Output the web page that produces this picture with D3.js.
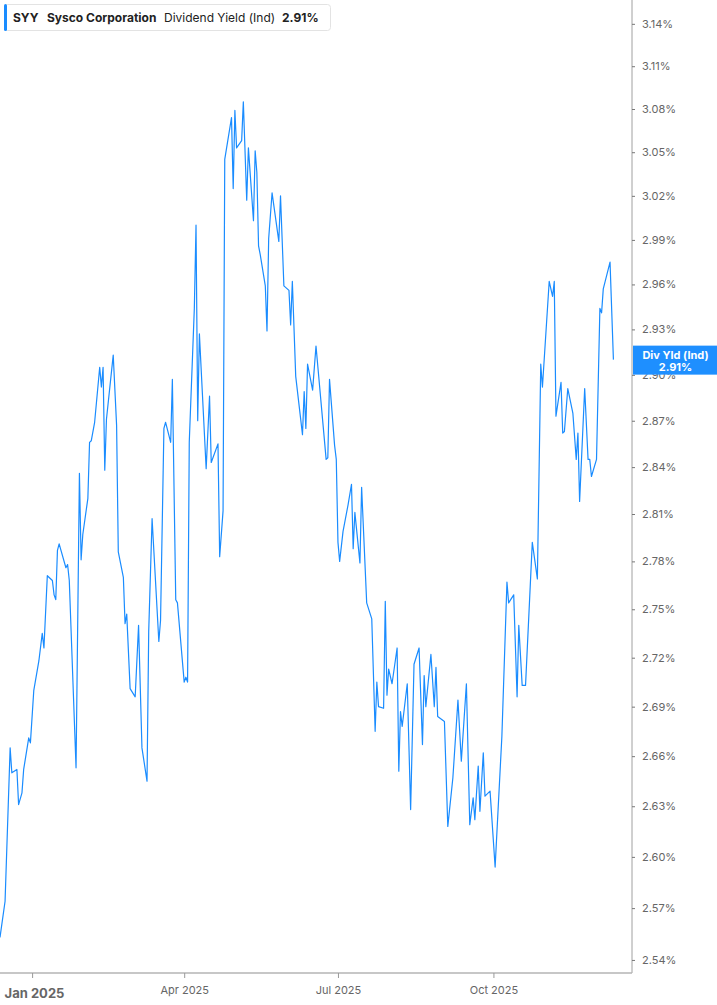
<!DOCTYPE html>
<html><head><meta charset="utf-8">
<script src="https://cdn.jsdelivr.net/npm/d3@7"></script>
<style>
html,body{margin:0;padding:0;background:#fff;}
svg{display:block;font-family:Inter,"Noto Sans",sans-serif;}
</style></head><body>
<svg id="c" width="717" height="1005"></svg>
<script>
const dates = ["2024-12-13","2024-12-16","2024-12-19","2024-12-20","2024-12-23","2024-12-24","2024-12-26","2024-12-27","2024-12-30","2024-12-31",
"2025-01-02","2025-01-05","2025-01-07","2025-01-08","2025-01-10","2025-01-13","2025-01-14","2025-01-15","2025-01-16","2025-01-17",
"2025-01-21","2025-01-22","2025-01-23","2025-01-27","2025-01-29","2025-01-30","2025-01-31","2025-02-03","2025-02-04","2025-02-05",
"2025-02-07","2025-02-10","2025-02-11","2025-02-12","2025-02-13","2025-02-14","2025-02-18","2025-02-20","2025-02-21","2025-02-24",
"2025-02-25","2025-02-26","2025-02-28","2025-03-03","2025-03-05","2025-03-07","2025-03-10","2025-03-11","2025-03-13","2025-03-17",
"2025-03-18","2025-03-20","2025-03-21","2025-03-24","2025-03-25","2025-03-27","2025-03-28","2025-04-01","2025-04-02","2025-04-03",
"2025-04-04","2025-04-07","2025-04-08","2025-04-09","2025-04-10","2025-04-14","2025-04-16","2025-04-17","2025-04-21","2025-04-22",
"2025-04-24","2025-04-25","2025-04-29","2025-04-30","2025-05-01","2025-05-02","2025-05-05","2025-05-06","2025-05-08","2025-05-09",
"2025-05-12","2025-05-13","2025-05-14","2025-05-15","2025-05-16","2025-05-19","2025-05-20","2025-05-21","2025-05-23","2025-05-27",
"2025-05-28","2025-05-30","2025-06-02","2025-06-03","2025-06-04","2025-06-06","2025-06-10","2025-06-11","2025-06-12","2025-06-13",
"2025-06-16","2025-06-18","2025-06-24","2025-06-25","2025-06-26","2025-06-29","2025-06-30","2025-07-01","2025-07-02","2025-07-04",
"2025-07-07","2025-07-09","2025-07-10","2025-07-11","2025-07-14","2025-07-15","2025-07-18","2025-07-21","2025-07-23","2025-07-24",
"2025-07-25","2025-07-28","2025-07-29","2025-07-30","2025-07-31","2025-08-02","2025-08-05","2025-08-06","2025-08-07","2025-08-08",
"2025-08-11","2025-08-13","2025-08-15","2025-08-18","2025-08-20","2025-08-21","2025-08-22","2025-08-25","2025-08-27","2025-08-28",
"2025-08-29","2025-09-02","2025-09-04","2025-09-07","2025-09-10","2025-09-12","2025-09-15","2025-09-17","2025-09-19","2025-09-20",
"2025-09-22","2025-09-23","2025-09-25","2025-09-26","2025-09-29","2025-10-02","2025-10-06","2025-10-09","2025-10-10","2025-10-13",
"2025-10-15","2025-10-16","2025-10-18","2025-10-20","2025-10-24","2025-10-27","2025-10-29","2025-10-30","2025-11-03","2025-11-05",
"2025-11-06","2025-11-07","2025-11-10","2025-11-11","2025-11-12","2025-11-14","2025-11-17","2025-11-19","2025-11-20","2025-11-21",
"2025-11-24","2025-11-26","2025-11-27","2025-11-28","2025-12-01","2025-12-03","2025-12-04","2025-12-05","2025-12-09","2025-12-11"];

const yields = [2.553,2.574,2.665,2.650,2.652,2.631,2.638,2.652,2.671,2.668,
2.700,2.718,2.735,2.726,2.771,2.768,2.759,2.756,2.787,2.791,
2.776,2.778,2.768,2.653,2.836,2.781,2.797,2.820,2.856,2.857,
2.869,2.905,2.892,2.905,2.838,2.871,2.913,2.867,2.786,2.770,
2.741,2.747,2.701,2.696,2.740,2.665,2.645,2.736,2.807,2.730,
2.743,2.865,2.869,2.856,2.897,2.756,2.754,2.705,2.708,2.705,
2.856,2.944,3.000,2.870,2.927,2.839,2.886,2.843,2.855,2.783,
2.812,3.045,3.074,3.025,3.079,3.053,3.058,3.085,3.017,3.053,
3.003,3.051,3.036,2.986,2.980,2.959,2.929,2.991,3.022,2.989,
3.020,2.959,2.956,2.933,2.962,2.899,2.861,2.889,2.865,2.907,
2.890,2.919,2.845,2.846,2.897,2.854,2.845,2.792,2.780,2.799,
2.816,2.829,2.788,2.811,2.779,2.827,2.754,2.744,2.675,2.705,
2.690,2.689,2.755,2.697,2.713,2.704,2.726,2.651,2.687,2.678,
2.704,2.628,2.716,2.726,2.667,2.709,2.690,2.722,2.690,2.714,
2.684,2.681,2.618,2.647,2.694,2.657,2.704,2.619,2.635,2.622,
2.654,2.627,2.662,2.636,2.639,2.594,2.672,2.767,2.754,2.759,
2.696,2.740,2.703,2.703,2.792,2.769,2.907,2.892,2.962,2.952,
2.962,2.873,2.895,2.862,2.863,2.891,2.875,2.845,2.862,2.818,
2.891,2.845,2.845,2.834,2.845,2.944,2.941,2.957,2.975,2.910];

const yTicks = [2.54,2.57,2.60,2.63,2.66,2.69,2.72,2.75,2.78,2.81,2.84,2.87,2.90,2.93,2.96,2.99,3.02,3.05,3.08,3.11,3.14];
const xTicks = ["2025-01-01","2025-04-01","2025-07-01","2025-10-01"];
const xTickLabels = ["Jan 2025","Apr 2025","Jul 2025","Oct 2025"];
const ticker = "SYY", company = "Sysco Corporation", metric = "Dividend Yield (Ind)", lastLabel = "2.91%", tagName = "Div Yld (Ind)";

const parse = d3.timeParse("%Y-%m-%d");
const data = dates.map((d,i)=>({date:parse(d), v:yields[i]}));

const W = 632, H = 973;
const blue = "#1a8cff";
const svg = d3.select("#c");

const x = d3.scaleTime().domain([parse("2024-12-13"), parse("2025-12-22")]).range([0, W]);
const y = d3.scaleLog().domain([2.5325, 3.157]).range([H, 0]);

// line
svg.append("path").datum(data)
  .attr("fill","none").attr("stroke",blue).attr("stroke-width",1.2).attr("stroke-linejoin","round")
  .attr("d", d3.line().x(d=>x(d.date)).y(d=>y(d.v)));

// right axis
const ya = svg.append("g").attr("transform",`translate(${W},0)`)
  .call(d3.axisRight(y).tickValues(yTicks).tickFormat(d=>d.toFixed(2)+"%").tickSize(3).tickPadding(7));
ya.select(".domain").attr("stroke","#a0a0a0").attr("d",`M0,0V${H}`);
ya.selectAll(".tick line").attr("stroke","#777");
ya.selectAll(".tick text").attr("fill","#666").attr("font-size",11).attr("font-family","Inter,sans-serif");

// bottom axis
const xa = svg.append("g").attr("transform",`translate(0,${H})`)
  .call(d3.axisBottom(x).tickValues(xTicks.map(parse)).tickFormat((d,i)=>xTickLabels[i]).tickSize(5).tickPadding(6));
xa.select(".domain").attr("stroke","#b5b5b5").attr("stroke-width",1.5).attr("d",`M0,0H${W}`);
xa.selectAll(".tick line").attr("stroke","#999");
xa.selectAll(".tick text").attr("fill","#666").attr("font-size",11).attr("font-family","Inter,sans-serif").attr("dy","0.95em");
xa.selectAll(".tick text").filter((d,i)=>i===0)
  .attr("font-weight","bold").attr("font-size",13).attr("text-anchor","start").attr("x",-28).attr("dy","1.1em");

// end tag (drawn over the axis, partly covering the 2.90% label as in the reference)
const last = data[data.length-1];
const ty = y(last.v);
const tag = svg.append("g");
tag.append("rect").attr("x",W+1).attr("y",ty-14).attr("width",717-W-1).attr("height",29).attr("fill","#1e8fff");
tag.append("text").attr("x",(W+717)/2+1).attr("y",ty-1).attr("text-anchor","middle").attr("fill","#fff")
  .attr("font-size",11).attr("font-weight","bold").text(tagName);
tag.append("text").attr("x",(W+717)/2+1).attr("y",ty+11).attr("text-anchor","middle").attr("fill","#fff")
  .attr("font-size",11).attr("font-weight","bold").text(lastLabel);

// legend
const lg = svg.append("g");
lg.append("rect").attr("x",4.5).attr("y",4.5).attr("width",326).attr("height",26).attr("rx",3)
  .attr("fill","#fff").attr("stroke","#e3e3e3");
lg.append("rect").attr("x",4).attr("y",4).attr("width",3).attr("height",27).attr("rx",1.5).attr("fill",blue);
const lt = lg.append("text").attr("y",21.5).attr("font-size",12).attr("fill","#222");
lt.append("tspan").attr("x",13).attr("font-weight","bold").text(ticker);
lt.append("tspan").attr("x",47).attr("font-weight","bold").text(company);
lt.append("tspan").attr("x",164).attr("font-weight","normal").text(metric);
lt.append("tspan").attr("x",282).attr("font-weight","bold").text(lastLabel);
</script>
</body></html>
